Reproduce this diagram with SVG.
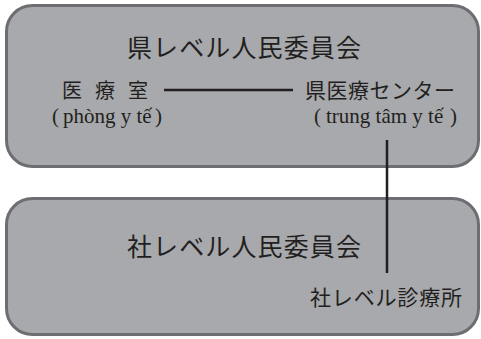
<svg xmlns="http://www.w3.org/2000/svg" width="481" height="339" viewBox="0 0 481 339">
<style>
.box{fill:#a7a9ac;stroke:#6d6e71;stroke-width:3}
.t{fill:#231f20;font-family:"Noto Sans CJK JP","Liberation Serif",serif}
.l{fill:#231f20;font-family:"Liberation Serif","Noto Sans CJK JP",serif;font-size:21px}
.c{stroke:#231f20;stroke-width:2.5;fill:none}
</style>
<g id="province">
<rect class="box" x="6.5" y="5.5" width="472" height="161" rx="26"/>
<text class="t" x="244" y="57" font-size="25" text-anchor="middle" textLength="234">県レベル人民委員会</text>
<text class="t" x="62" y="98" font-size="20" textLength="86">医 療 室</text>
<text class="l" x="52" y="123">(</text>
<text class="l" x="63" y="123">phòng y tế</text>
<text class="l" x="155" y="123">)</text>
<text class="t" x="305" y="98" font-size="21" textLength="150">県医療センター</text>
<text class="l" x="314" y="123">(</text>
<text class="l" x="326" y="123">trung tâm y tế</text>
<text class="l" x="450" y="123">)</text>
</g>
<g id="commune">
<rect class="box" x="6.5" y="198.5" width="472" height="136" rx="26"/>
<text class="t" x="244" y="256" font-size="25" text-anchor="middle" textLength="234">社レベル人民委員会</text>
<text class="t" x="310" y="305" font-size="21" textLength="152">社レベル診療所</text>
</g>
<g id="connectors">
<line class="c" x1="164" y1="90" x2="293" y2="90"/>
<line class="c" x1="387" y1="140" x2="387" y2="273"/>
</g>
</svg>
